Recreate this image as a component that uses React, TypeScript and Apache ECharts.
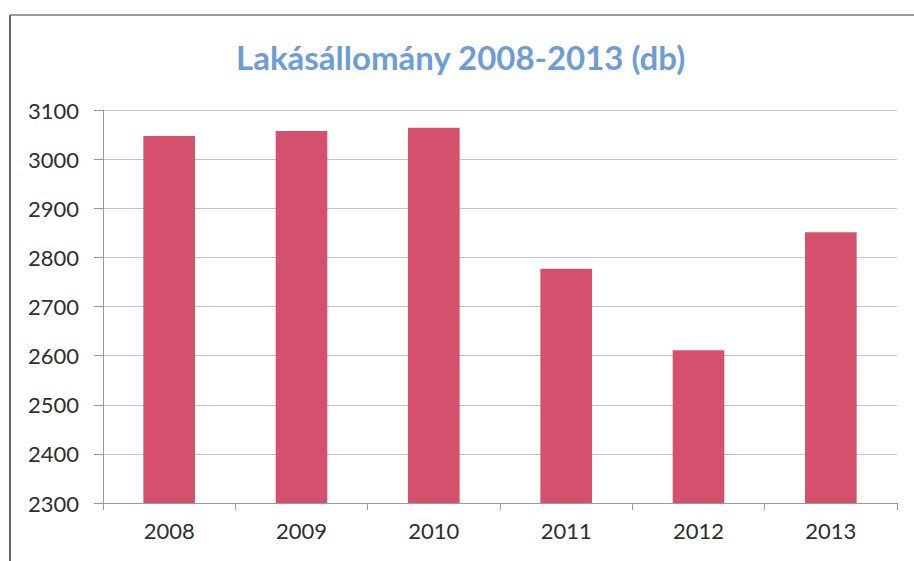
import React, { useEffect, useRef } from "react";
import * as echarts from "echarts";

const title = "Lakásállomány 2008-2013 (db)";
const years = ["2008", "2009", "2010", "2011", "2012", "2013"];
const dwellings = [3047, 3057, 3064, 2777, 2611, 2851];
const yMin = 2300;
const yMax = 3100;
const yStep = 100;

export default function App() {
  const ref = useRef<HTMLDivElement>(null);
  useEffect(() => {
    if (!ref.current) return;
    const chart = echarts.init(ref.current, null, { renderer: "svg" });
    chart.setOption({
      animation: false,
      backgroundColor: "#ffffff",
      title: {
        text: title,
        left: 231,
        top: 35,
        textStyle: {
          fontFamily: "Lato",
          fontWeight: "bold",
          fontSize: 33,
          color: "#6e9dd6",
        },
      },
      graphic: [
        {
          type: "line",
          shape: { x1: 10, y1: 15, x2: 914, y2: 15 },
          style: { stroke: "#9a9a9a", lineWidth: 2 },
        },
        {
          type: "line",
          shape: { x1: 10, y1: 15, x2: 10, y2: 561 },
          style: { stroke: "#666666", lineWidth: 2 },
        },
      ],
      grid: { left: 103, right: 17, top: 110, bottom: 58 },
      xAxis: {
        type: "category",
        data: years,
        axisLine: { lineStyle: { color: "#9a9a9a", width: 1 } },
        axisTick: { show: true, length: 7, lineStyle: { color: "#9a9a9a" } },
        axisLabel: {
          margin: 16,
          fontFamily: "Lato",
          fontSize: 22,
          color: "#2e2e2e",
        },
      },
      yAxis: {
        type: "value",
        min: yMin,
        max: yMax,
        interval: yStep,
        axisLine: { show: true, lineStyle: { color: "#9a9a9a", width: 1 } },
        axisTick: { show: true, length: 9, lineStyle: { color: "#9a9a9a" } },
        axisLabel: {
          margin: 24,
          fontFamily: "Lato",
          fontSize: 22,
          color: "#2e2e2e",
          formatter: (v: number) => String(v),
        },
        splitLine: { lineStyle: { color: "#c4c4c4", width: 1 } },
      },
      series: [
        {
          type: "bar",
          data: dwellings,
          barWidth: "39%",
          itemStyle: { color: "#d4506c" },
        },
      ],
    });
    return () => chart.dispose();
  }, []);
  return (
    <div
      ref={ref}
      style={{ position: "fixed", left: 0, top: 0, width: 914, height: 561 }}
    />
  );
}
